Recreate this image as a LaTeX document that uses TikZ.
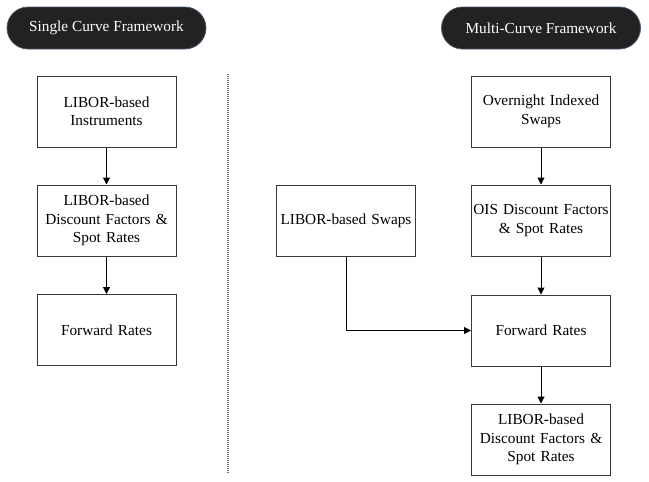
\documentclass[tikz,border=0pt]{standalone}
\usepackage{fontspec}
\setmainfont{Liberation Serif}
\usetikzlibrary{arrows.meta}
\definecolor{pillfill}{HTML}{222222}
\definecolor{pilledge}{HTML}{4A5A6E}
\definecolor{boxedge}{HTML}{3A3A3A}
\tikzstyle{header} = [rectangle, rounded corners=21pt, minimum width=199pt, minimum height=42pt, text centered, draw=pilledge, fill=pillfill, text=white, line width=0.8pt, font=\fontsize{15.3}{18.5}\selectfont]
\tikzstyle{io} = [rectangle, minimum width=139pt, minimum height=71pt, text width=139pt, inner xsep=0pt, align=center, draw=boxedge, line width=1pt, font=\fontsize{15.3}{18.5}\selectfont]
\tikzstyle{arrow} = [line width=1pt,->,>={Triangle[width=7pt,length=7pt]}]
\begin{document}
\begin{tikzpicture}[x=1pt,y=-1pt]
\useasboundingbox (0,0) rectangle (649,482);

\node[header] (single) at (106.5,28) {Single Curve Framework};
\node[header] (multi) at (541,28) {Multi-Curve Framework};

\draw[gray!90!black,dash pattern=on 1pt off 1pt,line width=1.2pt] (228,74)--(228,474);

% single curve
\node[io] (s1) at (106.5,111.5) {LIBOR-based\\Instruments};
\node[io] (s2) at (106.5,220.5) {LIBOR-based\\Discount Factors \&\\Spot Rates};
\node[io] (s3) at (106.5,330) {Forward Rates};

% multi curve
\node[io] (m1) at (541,111.5) {Overnight Indexed\\Swaps};
\node[io] (m2) at (541,220.5) {OIS Discount Factors\\\& Spot Rates};
\node[io] (m3) at (541,330.5) {Forward Rates};
\node[io] (m4) at (541,439.5) {LIBOR-based\\Discount Factors \&\\Spot Rates};
\node[io] (swaps) at (346,220.5) {LIBOR-based Swaps};

\draw[arrow] (s1)--(s2);
\draw[arrow] (s2)--(s3);
\draw[arrow] (m1)--(m2);
\draw[arrow] (m2)--(m3);
\draw[arrow] (m3)--(m4);
\draw[arrow] (swaps.south) |- (m3.west);
\end{tikzpicture}
\end{document}
